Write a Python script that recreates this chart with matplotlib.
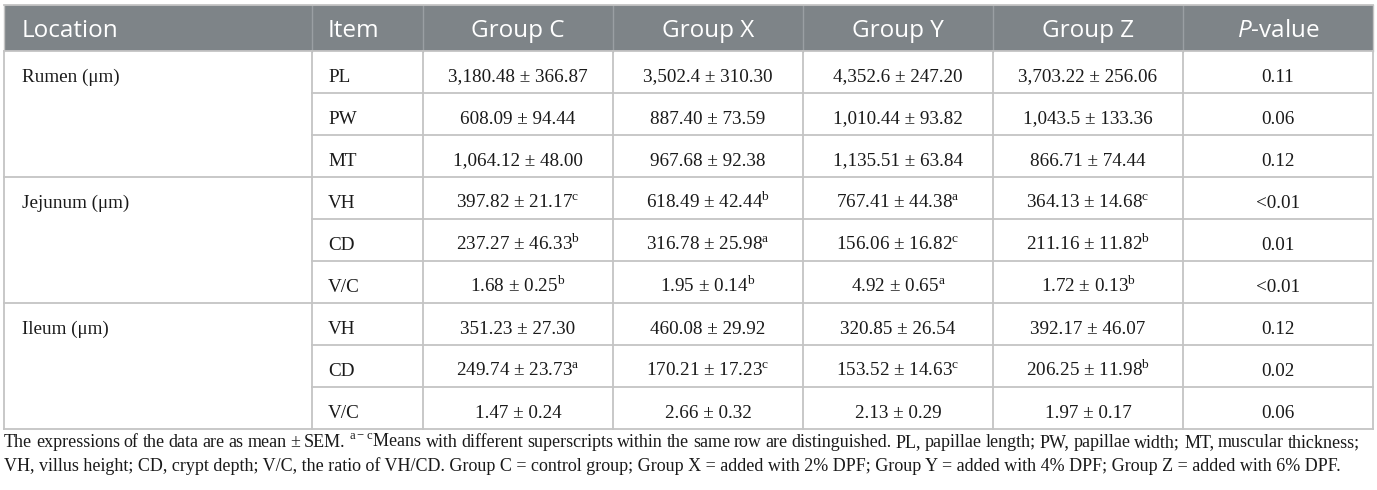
import matplotlib
matplotlib.use("Agg")
import matplotlib.pyplot as plt

# ---- table content ----
headers = ["Location", "Item", "Group C", "Group X", "Group Y", "Group Z", "$\\it{P}$-value"]
locations = ["Rumen (\u03bcm)", "Jejunum (\u03bcm)", "Ileum (\u03bcm)"]
items = ["PL", "PW", "MT", "VH", "CD", "V/C", "VH", "CD", "V/C"]

group_c = ["3,180.48 \u00b1 366.87", "608.09 \u00b1 94.44", "1,064.12 \u00b1 48.00",
           "397.82 \u00b1 21.17", "237.27 \u00b1 46.33", "1.68 \u00b1 0.25",
           "351.23 \u00b1 27.30", "249.74 \u00b1 23.73", "1.47 \u00b1 0.24"]
sup_c = ["", "", "", "c", "b", "b", "", "a", ""]
group_x = ["3,502.4 \u00b1 310.30", "887.40 \u00b1 73.59", "967.68 \u00b1 92.38",
           "618.49 \u00b1 42.44", "316.78 \u00b1 25.98", "1.95 \u00b1 0.14",
           "460.08 \u00b1 29.92", "170.21 \u00b1 17.23", "2.66 \u00b1 0.32"]
sup_x = ["", "", "", "b", "a", "b", "", "c", ""]
group_y = ["4,352.6 \u00b1 247.20", "1,010.44 \u00b1 93.82", "1,135.51 \u00b1 63.84",
           "767.41 \u00b1 44.38", "156.06 \u00b1 16.82", "4.92 \u00b1 0.65",
           "320.85 \u00b1 26.54", "153.52 \u00b1 14.63", "2.13 \u00b1 0.29"]
sup_y = ["", "", "", "a", "c", "a", "", "c", ""]
group_z = ["3,703.22 \u00b1 256.06", "1,043.5 \u00b1 133.36", "866.71 \u00b1 74.44",
           "364.13 \u00b1 14.68", "211.16 \u00b1 11.82", "1.72 \u00b1 0.13",
           "392.17 \u00b1 46.07", "206.25 \u00b1 11.98", "1.97 \u00b1 0.17"]
sup_z = ["", "", "", "c", "b", "b", "", "b", ""]
p_values = ["0.11", "0.06", "0.12", "<0.01", "0.01", "<0.01", "0.12", "0.02", "0.06"]

footnote = [
    "The expressions of the data are as mean \u00b1 SEM. $^{\\mathrm{a-c}}$Means with different "
    "superscripts within the same row are distinguished. PL, papillae length; PW, papillae width; "
    "MT, muscular thickness;",
    "VH, villus height; CD, crypt depth; V/C, the ratio of VH/CD. Group C = control group; "
    "Group X = added with 2% DPF; Group Y = added with 4% DPF; Group Z = added with 6% DPF.",
]

# ---- layout (pixels) ----
W, H = 1377, 490
col_x = [4, 312, 423, 613, 803, 993, 1183, 1373]
top, head_bot, row_h = 5, 51, 42
n_rows = len(items)
bottom = head_bot + n_rows * row_h

plt.rcParams['mathtext.fontset'] = 'custom'
plt.rcParams['mathtext.rm'] = 'Liberation Serif'
plt.rcParams['mathtext.it'] = 'Open Sans:italic'

serif = 'Liberation Serif'
sans = 'Open Sans'
body_fs = 13.8
head_fs = 17.5
foot_fs = 12.95
txt_c = '#1a1a1a'
line_c = '#c4c4c4'

fig = plt.figure(figsize=(W / 100, H / 100), dpi=100)
ax = fig.add_axes([0, 0, 1, 1])
ax.set_xlim(0, W)
ax.set_ylim(H, 0)
ax.axis('off')

# header band
ax.add_patch(plt.Rectangle((col_x[0], top), col_x[-1] - col_x[0], head_bot - top,
                           facecolor='#7e8488', edgecolor='none', zorder=1))

# vertical lines
for i, x in enumerate(col_x):
    ax.plot([x, x], [head_bot, bottom], color=line_c, lw=1.3, zorder=2)
    ax.plot([x, x], [top, head_bot], color='#9a9fa3' if 0 < i < len(col_x) - 1 else line_c,
            lw=1.0, zorder=2)

# horizontal lines
ax.plot([col_x[0], col_x[-1]], [top, top], color=line_c, lw=1.3, zorder=2)
for r in range(n_rows + 1):
    y = head_bot + r * row_h
    x0 = col_x[0] if r % 3 == 0 else col_x[1]
    ax.plot([x0, col_x[-1]], [y, y], color=line_c, lw=1.3, zorder=2)

# header text
hy = 37
for j, h in enumerate(headers):
    if j < 2:
        ax.text(col_x[j] + 18 if j == 0 else col_x[j] + 16, hy, h, ha='left', va='baseline',
                fontsize=head_fs, family=sans, color='white', zorder=3)
    else:
        ax.text((col_x[j] + col_x[j + 1]) / 2, hy, h, ha='center', va='baseline',
                fontsize=head_fs, family=sans, color='white', zorder=3)

# body
for g, loc in enumerate(locations):
    yb = head_bot + g * 3 * row_h + 30.5
    ax.text(col_x[0] + 18, yb, loc, ha='left', va='baseline', fontsize=body_fs,
            family=serif, color=txt_c)

columns = [(group_c, sup_c), (group_x, sup_x), (group_y, sup_y), (group_z, sup_z)]
for r in range(n_rows):
    yb = head_bot + r * row_h + 30.5
    ax.text(col_x[1] + 16, yb, items[r], ha='left', va='baseline', fontsize=body_fs,
            family=serif, color=txt_c)
    for k, (vals, sups) in enumerate(columns):
        s = vals[r]
        if sups[r]:
            s = s + "$^{\\mathrm{%s}}$" % sups[r]
        ax.text((col_x[k + 2] + col_x[k + 3]) / 2, yb, s, ha='center', va='baseline',
                fontsize=body_fs, family=serif, color=txt_c)
    ax.text((col_x[6] + col_x[7]) / 2, yb, p_values[r], ha='center', va='baseline',
            fontsize=body_fs, family=serif, color=txt_c)

# footnote: first line justified to the text block width, last line left aligned
renderer = fig.canvas.get_renderer()
foot_right = 1360
words = footnote[0].split(" ")
word_txt = []
widths = []
for w in words:
    t = ax.text(0, 447, w, ha='left', va='baseline', fontsize=foot_fs,
                family=serif, color=txt_c)
    word_txt.append(t)
    widths.append(t.get_window_extent(renderer).width)
gap = (foot_right - col_x[0] - sum(widths)) / (len(words) - 1)
x = col_x[0]
for t, wd in zip(word_txt, widths):
    t.set_x(x)
    x += wd + gap

ax.text(col_x[0], 470.5, footnote[1], ha='left', va='baseline', fontsize=foot_fs,
        family=serif, color=txt_c)

fig.savefig("out.png", dpi=100)
